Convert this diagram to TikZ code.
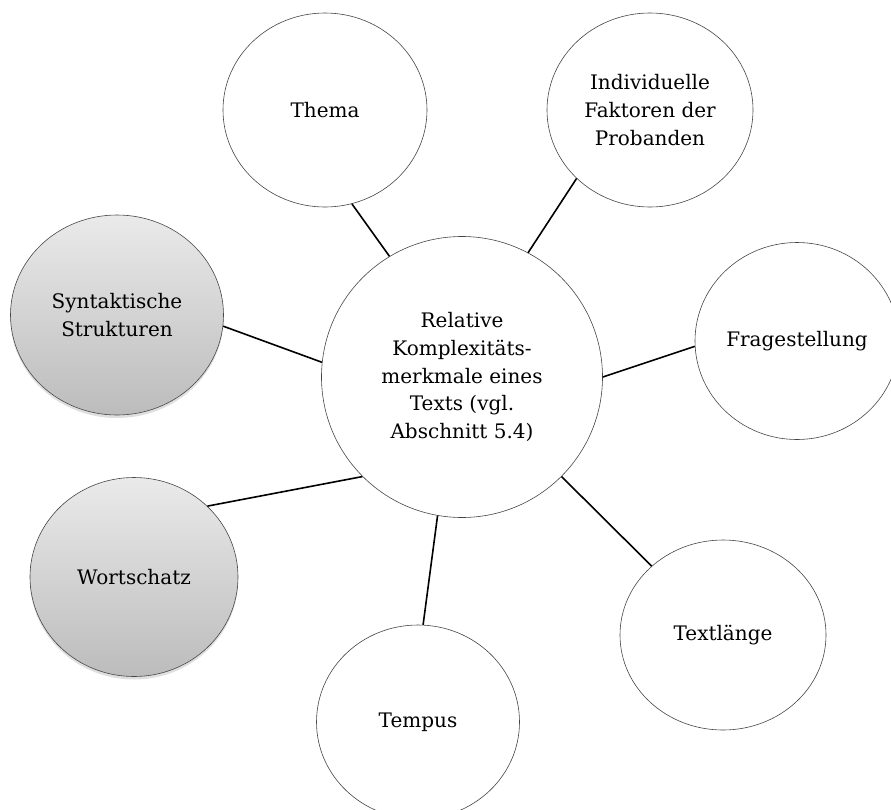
\documentclass[tikz,border=0pt]{standalone}
\usepackage{fontspec}
\setmainfont{DejaVu Serif}
\usepackage{tikz}
\usetikzlibrary{shapes.geometric, shadows}
\definecolor{bubbleline}{RGB}{70,70,70}
\definecolor{greytop}{RGB}{234,234,234}
\definecolor{greybottom}{RGB}{188,188,188}

\begin{document}
\begin{tikzpicture}[x=1pt, y=-1pt,
  bubble/.style={ellipse, draw=bubbleline, line width=0.6pt, fill=white, inner sep=0pt, text centered, align=center, font=\fontsize{20}{27.7}\selectfont},
  greybubble/.style={bubble, top color=greytop, bottom color=greybottom, drop shadow={shadow xshift=0pt, shadow yshift=-3pt, opacity=0.25}},
  link/.style={draw=black, line width=1.6pt}
]
  \useasboundingbox (0,0) rectangle (891,809);

  % Center
  \node[bubble, minimum width=281, minimum height=281] (center) at (462,377) {Relative\\Komplexitäts-\\merkmale eines\\Texts (vgl.\\Abschnitt 5.4)};

  % Outer ring
  \node[bubble, minimum width=204, minimum height=194] (thema) at (325,110) {Thema};
  \node[bubble, minimum width=206, minimum height=194] (faktoren) at (650,110) {Individuelle\\Faktoren der\\Probanden};
  \node[bubble, minimum width=204, minimum height=197] (frage) at (797,341) {Fragestellung};
  \node[bubble, minimum width=206, minimum height=190] (laenge) at (723,635) {Textlänge};
  \node[bubble, minimum width=203, minimum height=194] (tempus) at (418,722) {Tempus};

  % Grey ones
  \node[greybubble, minimum width=208, minimum height=199] (wortschatz) at (134,577) {Wortschatz};
  \node[greybubble, minimum width=213, minimum height=200] (syntax) at (117,315) {Syntaktische\\Strukturen};

  % Links
  \draw[link] (center.121) -- (thema.-74);
  \draw[link] (center.62) -- (faktoren.223);
  \draw[link] (center.0) -- (frage.183);
  \draw[link] (center.-45) -- (laenge.136);
  \draw[link] (center.-100) -- (tempus.87);
  \draw[link] (center.225) -- (wortschatz.44);
  \draw[link] (center.174) -- (syntax.-6);
\end{tikzpicture}
\end{document}
